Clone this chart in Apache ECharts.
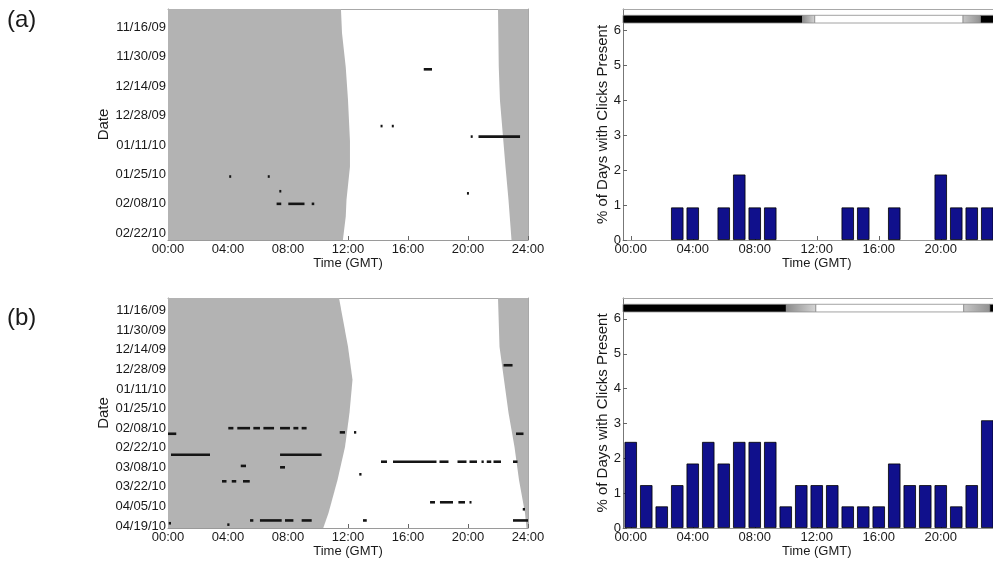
<!DOCTYPE html>
<html><head><meta charset="utf-8">
<script src="https://cdn.jsdelivr.net/npm/echarts@6/dist/echarts.min.js"></script>
<style>html,body{margin:0;padding:0;background:#fff}#c{width:993px;height:563px}</style>
</head><body><div id="c"></div>
<script>
// ---------- data ----------
const dateTicksA = [0, 14, 28, 42, 56, 70, 84, 98]; // days since 11/16/09
const dateLabelsA = ['11/16/09','11/30/09','12/14/09','12/28/09','01/11/10','01/25/10','02/08/10','02/22/10'];
const dateTicksB = [0, 14, 28, 42, 56, 70, 84, 98, 112, 126, 140, 154];
const dateLabelsB = ['11/16/09','11/30/09','12/14/09','12/28/09','01/11/10','01/25/10','02/08/10','02/22/10','03/08/10','03/22/10','04/05/10','04/19/10'];
const dayRangeA = [-8.7, 101.2];
const dayRangeB = [-9.1, 155.4];

const hourTicks = [0, 4, 8, 12, 16, 20, 24];
const hourLabels = ['00:00','04:00','08:00','12:00','16:00','20:00','24:00'];
const barHours = ['00:00','01:00','02:00','03:00','04:00','05:00','06:00','07:00','08:00','09:00','10:00','11:00',
  '12:00','13:00','14:00','15:00','16:00','17:00','18:00','19:00','20:00','21:00','22:00','23:00','24:00'];
const barTickLabels = ['00:00','04:00','08:00','12:00','16:00','20:00'];

const pctA = [0, 0, 0, 0.93, 0.93, 0, 0.93, 1.87, 0.93, 0.93, 0, 0, 0, 0, 0.93, 0.93, 0, 0.93, 0, 0, 1.87, 0.93, 0.93, 0.93];
const pctB = [2.47, 1.23, 0.62, 1.23, 1.85, 2.47, 1.85, 2.47, 2.47, 2.47, 0.62, 1.23, 1.23, 1.23, 0.62, 0.62, 0.62, 1.85, 1.23, 1.23, 1.23, 0.62, 1.23, 3.09];

// night boundaries (day, hour GMT)
const sunriseDayA  = [-8.7, 2.7, 19, 34.6, 54, 66.3, 82, 90, 101.2];
const sunriseHourA = [11.53, 11.6, 11.85, 12.0, 12.13, 12.13, 11.9, 11.85, 11.66];
const sunsetDayA   = [-8.7, 18.7, 34.7, 66.4, 82.2, 101.2];
const sunsetHourA  = [22.0, 22.05, 22.13, 22.5, 22.7, 22.9];
const sunriseDayB  = [-9.1, 25.8, 49.4, 73, 97.4, 121, 144.7, 155.4];
const sunriseHourB = [11.4, 12.0, 12.3, 12.1, 11.8, 11.3, 10.7, 10.35];
const sunsetDayB   = [-9.1, 25.8, 49.4, 73, 97.4, 121, 144.7, 155.4];
const sunsetHourB  = [22.0, 22.1, 22.4, 22.7, 23.1, 23.4, 23.8, 23.9];

// click detections: [day, startHour, endHour]
const clicksA = [
  [20, 17.05, 17.6], [47, 14.17, 14.3], [47, 14.92, 15.05],
  [52, 20.18, 20.3], [52, 20.7, 23.47],
  [71, 4.08, 4.2], [71, 6.65, 6.78], [78, 7.42, 7.55], [79, 19.93, 20.05],
  [84, 7.24, 7.55], [84, 8.02, 9.1], [84, 9.58, 9.75]
];
const clicksB = [
  [39, 22.37, 22.97],
  [84, 4.02, 4.36], [84, 4.62, 5.47], [84, 5.69, 6.13], [84, 6.36, 7.07], [84, 7.47, 8.13], [84, 8.36, 8.69], [84, 8.91, 9.24],
  [87, 11.45, 11.8], [87, 12.4, 12.55], [88, 0.0, 0.55], [88, 23.2, 23.7],
  [103, 0.2, 2.8], [103, 7.47, 10.24],
  [108, 14.2, 14.6], [108, 15.0, 17.9], [108, 18.1, 18.7], [108, 19.3, 19.9], [108, 20.1, 20.6], [108, 20.9, 21.05],
  [108, 21.25, 21.55], [108, 21.7, 22.2], [108, 23.0, 23.3],
  [111, 4.85, 5.2], [112, 7.47, 7.8], [117, 12.75, 12.9],
  [122, 3.6, 3.9], [122, 4.25, 4.55], [122, 5.0, 5.45],
  [137, 17.47, 17.8], [137, 18.13, 19.0], [137, 19.36, 19.8], [137, 20.1, 20.2],
  [142, 23.65, 23.8],
  [150, 5.47, 5.69], [150, 6.13, 7.58], [150, 7.8, 8.36], [150, 8.91, 9.58], [150, 13.0, 13.25], [150, 23.0, 24.0],
  [152, 0.05, 0.2], [153, 3.95, 4.1]
];

// light condition strip: [startHour, endHour, phase]
const lightA = [[-0.5, 11.08, 'night'], [11.08, 11.87, 'dawn'], [11.87, 21.44, 'day'], [21.44, 22.56, 'dusk'], [22.56, 24.5, 'night']];
const lightB = [[-0.5, 10.04, 'night'], [10.04, 11.94, 'dawn'], [11.94, 21.48, 'day'], [21.48, 23.16, 'dusk'], [23.16, 24.5, 'night']];
const stripRange = [6.2, 6.42];

// ---------- chart ----------
const FONT = 'Liberation Sans, Arial, sans-serif';
const GREY = '#b3b3b3';
const chart = echarts.init(document.getElementById('c'), null, {renderer: 'canvas'});

function nightSeries(xi, yi, rD, rH, sD, sH) {
  return {
    type: 'custom', xAxisIndex: xi, yAxisIndex: yi, silent: true, z: 1, clip: true,
    data: rD.map((d, i) => [rH[i], d]),
    renderItem(params, api) {
      if (params.dataIndex !== 0) return null;
      const left = [api.coord([0, rD[0]])];
      rD.forEach((d, i) => left.push(api.coord([rH[i], d])));
      left.push(api.coord([0, rD[rD.length - 1]]));
      const right = [api.coord([24, sD[0]])];
      sD.forEach((d, i) => right.push(api.coord([sH[i], d])));
      right.push(api.coord([24, sD[sD.length - 1]]));
      return {type: 'group', children: [
        {type: 'polygon', shape: {points: left}, style: {fill: GREY}},
        {type: 'polygon', shape: {points: right}, style: {fill: GREY}}
      ]};
    }
  };
}
function clickSeries(xi, yi, data) {
  return {
    type: 'custom', xAxisIndex: xi, yAxisIndex: yi, silent: true, z: 3, clip: true,
    data: data.map(r => [r[1], r[2], r[0]]),
    encode: {x: [0, 1], y: 2},
    renderItem(params, api) {
      const s = api.value(0), e = api.value(1), d = api.value(2);
      const p1 = api.coord([s, d - 0.5]), p2 = api.coord([e, d + 0.5]);
      const h = Math.max(Math.abs(p2[1] - p1[1]), 2.6);
      const cy = (p1[1] + p2[1]) / 2;
      return {type: 'rect', shape: {x: p1[0], y: cy - h / 2, width: Math.max(p2[0] - p1[0], 2), height: h},
        style: {fill: '#151515'}};
    }
  };
}
function stripSeries(xi, yi, data) {
  return {
    type: 'custom', xAxisIndex: xi, yAxisIndex: yi, silent: true, z: 4, clip: false,
    data: data.map(r => [r[0], r[1]]),
    encode: {x: [0, 1]},
    renderItem(params, api) {
      const phase = data[params.dataIndex][2];
      const p1 = api.coord([api.value(0), stripRange[1]]);
      const p2 = api.coord([api.value(1), stripRange[0]]);
      let fill = '#000';
      if (phase === 'day') fill = '#fff';
      if (phase === 'dawn') fill = new echarts.graphic.LinearGradient(0, 0, 1, 0, [{offset: 0, color: '#8a8a8a'}, {offset: 1, color: '#d6d6d6'}]);
      if (phase === 'dusk') fill = new echarts.graphic.LinearGradient(0, 0, 1, 0, [{offset: 0, color: '#c8c8c8'}, {offset: 1, color: '#909090'}]);
      return {type: 'rect', shape: {x: p1[0], y: p1[1], width: p2[0] - p1[0], height: p2[1] - p1[1]},
        style: {fill: fill, stroke: '#8c8c8c', lineWidth: 0.8}};
    }
  };
}

const grids = [
  {left: 168, top: 9, width: 360, height: 231},
  {left: 623, top: 9, width: 387.5, height: 231},
  {left: 168, top: 298, width: 360, height: 230},
  {left: 623, top: 298, width: 387.5, height: 230}
].map(g => Object.assign(g, {containLabel: false, outerBoundsMode: 'none'}));

const lab = {fontFamily: FONT, fontSize: 13, color: '#1a1a1a'};
const nameStyle = {fontFamily: FONT, fontSize: 13, color: '#1a1a1a'};
const vNameStyle = {fontFamily: FONT, fontSize: 15, color: '#1a1a1a'};

function hourAxis(gi) {
  return {type: 'value', gridIndex: gi, min: 0, max: 24, interval: 4,
    name: 'Time (GMT)', nameLocation: 'middle', nameGap: 17, nameTextStyle: nameStyle,
    axisLine: {show: true, onZero: false, lineStyle: {color: '#9a9a9a', width: 1}},
    axisTick: {show: true, inside: true, length: 4, lineStyle: {color: '#666'}},
    axisLabel: Object.assign({margin: 3, formatter: v => hourLabels[hourTicks.indexOf(v)] || ''}, lab),
    splitLine: {show: false}};
}
function topBox(gi, cat) {
  const ax = cat ? {type: 'category', data: barHours, boundaryGap: true} : {type: 'value', min: 0, max: 24};
  return Object.assign(ax, {gridIndex: gi, position: 'top',
    axisLine: {show: true, onZero: false, lineStyle: {color: '#a8a8a8', width: 1}},
    axisTick: {show: false}, axisLabel: {show: false}, splitLine: {show: false}});
}
function catAxis(gi) {
  return {type: 'category', gridIndex: gi, data: barHours, boundaryGap: true,
    name: 'Time (GMT)', nameLocation: 'middle', nameGap: 17, nameTextStyle: nameStyle,
    axisLine: {show: true, onZero: false, lineStyle: {color: '#9a9a9a', width: 1}},
    axisTick: {show: true, inside: true, length: 4, interval: 3, alignWithLabel: true, lineStyle: {color: '#666'}},
    axisLabel: Object.assign({margin: 3, interval: 3,
      formatter: v => barTickLabels.indexOf(v) >= 0 ? v : ''}, lab),
    splitLine: {show: false}};
}
function hiddenHour(gi) {
  return {type: 'value', gridIndex: gi, min: -0.5, max: 24.5, show: false};
}
function dateAxis(gi, range, ticks, labels) {
  return {type: 'value', gridIndex: gi, inverse: true, min: range[0], max: range[1],
    name: 'Date', nameLocation: 'middle', nameGap: 56, nameRotate: 90, nameTextStyle: vNameStyle,
    axisLine: {show: true, onZero: false, lineStyle: {color: '#9a9a9a', width: 1}},
    axisTick: {show: true, inside: true, length: 4, customValues: ticks, lineStyle: {color: '#666'}},
    axisLabel: Object.assign({margin: 2, customValues: ticks,
      formatter: v => labels[ticks.indexOf(Math.round(v))] || ''}, lab),
    splitLine: {show: false}};
}
function rightBox(gi, range) {
  return {type: 'value', gridIndex: gi, position: 'right', inverse: true, min: range[0], max: range[1],
    axisLine: {show: true, onZero: false, lineStyle: {color: '#a8a8a8', width: 1}},
    axisTick: {show: false}, axisLabel: {show: false}, splitLine: {show: false}};
}
function pctAxis(gi) {
  return {type: 'value', gridIndex: gi, min: 0, max: 6.6, interval: 1,
    name: '% of Days with Clicks Present', nameLocation: 'middle', nameGap: 11, nameRotate: 90, nameTextStyle: vNameStyle,
    axisLine: {show: true, onZero: false, lineStyle: {color: '#777', width: 1}},
    axisTick: {show: true, inside: true, length: 4, lineStyle: {color: '#666'}},
    axisLabel: Object.assign({margin: 2, showMaxLabel: false}, lab),
    splitLine: {show: false}};
}

const barStyle = {color: '#10108c', borderColor: '#000', borderWidth: 0.8};
const barData = arr => arr.map(v => (v > 0 ? v : '-'));

chart.setOption({
  animation: false,
  backgroundColor: '#fff',
  grid: grids,
  xAxis: [
    hourAxis(0), topBox(0, false),          // 0,1
    catAxis(1), hiddenHour(1), topBox(1, true), // 2,3,4
    hourAxis(2), topBox(2, false),          // 5,6
    catAxis(3), hiddenHour(3), topBox(3, true)  // 7,8,9
  ],
  yAxis: [
    dateAxis(0, dayRangeA, dateTicksA, dateLabelsA), rightBox(0, dayRangeA), // 0,1
    pctAxis(1),                                                             // 2
    dateAxis(2, dayRangeB, dateTicksB, dateLabelsB), rightBox(2, dayRangeB), // 3,4
    pctAxis(3)                                                              // 5
  ],
  series: [
    nightSeries(0, 0, sunriseDayA, sunriseHourA, sunsetDayA, sunsetHourA),
    clickSeries(0, 0, clicksA),
    {type: 'bar', xAxisIndex: 2, yAxisIndex: 2, data: barData(pctA), barWidth: '80%', itemStyle: barStyle, silent: true},
    stripSeries(3, 2, lightA),
    nightSeries(5, 3, sunriseDayB, sunriseHourB, sunsetDayB, sunsetHourB),
    clickSeries(5, 3, clicksB),
    {type: 'bar', xAxisIndex: 7, yAxisIndex: 5, data: barData(pctB), barWidth: '80%', itemStyle: barStyle, silent: true},
    stripSeries(8, 5, lightB)
  ],
  graphic: [
    {type: 'text', left: 7, top: 8, style: {text: '(a)', font: '24px ' + FONT, fill: '#1a1a1a'}},
    {type: 'text', left: 7, top: 306, style: {text: '(b)', font: '24px ' + FONT, fill: '#1a1a1a'}}
  ]
});
</script>
</body></html>
